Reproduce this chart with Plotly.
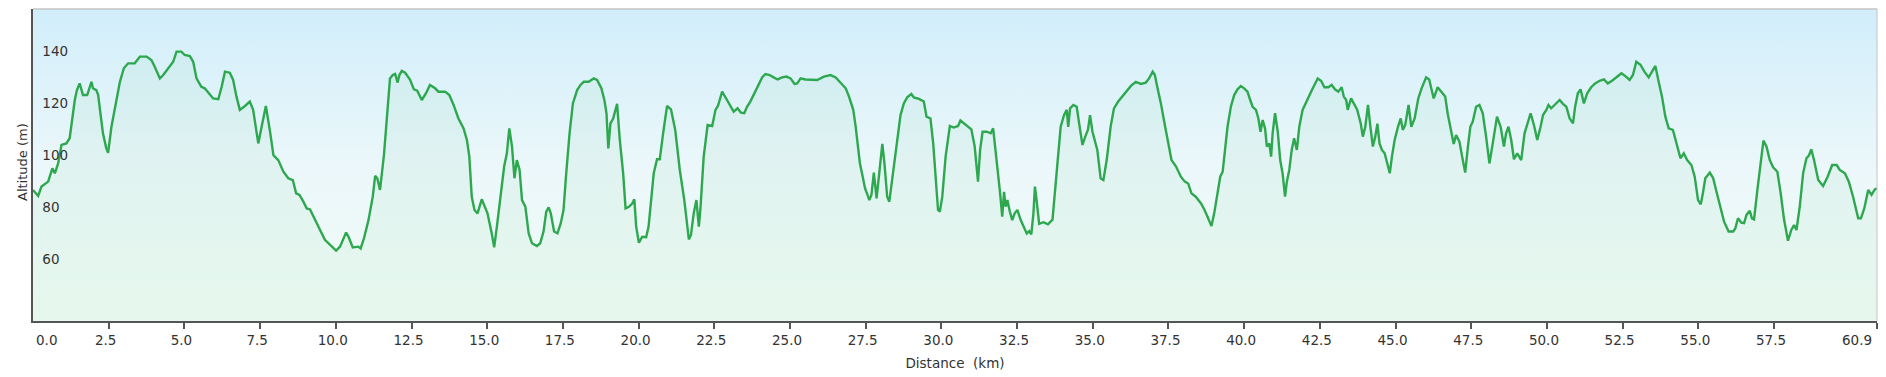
import plotly.graph_objects as go

distance_km = [
    0.0, 0.17, 0.28, 0.5, 0.64, 0.72, 0.83, 0.94, 1.10, 1.21, 1.38, 1.45, 1.54, 1.65, 1.79, 1.93, 1.98, 2.09, 2.15, 2.31,
    2.42, 2.48, 2.59, 2.73, 2.87, 3.0, 3.14, 3.36, 3.53, 3.75, 3.91, 4.02, 4.19, 4.30, 4.46, 4.63, 4.74, 4.90, 5.01, 5.18,
    5.29, 5.40, 5.56, 5.67, 5.95, 6.12, 6.23, 6.34, 6.50, 6.61, 6.72,
    6.83, 7.0, 7.16, 7.27, 7.44, 7.55, 7.69, 7.82, 7.94, 8.10, 8.27, 8.43, 8.58, 8.69, 8.80, 8.93, 9.04, 9.15, 9.31, 9.48,
    9.64, 9.81, 10.01, 10.14, 10.34, 10.42, 10.56, 10.74, 10.82, 10.93, 11.08, 11.22, 11.30, 11.37, 11.46, 11.59, 11.68,
    11.79, 11.88, 11.96, 12.04, 12.10, 12.18, 12.29, 12.45, 12.58, 12.69, 12.84, 12.98, 13.11, 13.28, 13.39, 13.61, 13.75,
    13.89, 14.05, 14.22, 14.33, 14.41, 14.49, 14.58, 14.68, 14.82,
    15.01, 15.15, 15.23, 15.32, 15.43, 15.56, 15.65, 15.73, 15.82, 15.90, 15.98, 16.07, 16.15, 16.26, 16.37, 16.48, 16.64,
    16.75, 16.86, 16.95, 17.03, 17.10, 17.21, 17.32, 17.43, 17.52, 17.61, 17.72, 17.83, 17.97, 18.08, 18.19, 18.35, 18.52,
    18.63, 18.77, 18.87, 18.94, 19.0, 19.07, 19.16, 19.29, 19.38, 19.49, 19.57, 19.68, 19.79, 19.86, 19.92, 20.01, 20.12,
    20.25, 20.33, 20.44, 20.50, 20.61, 20.70, 20.81, 20.94, 21.07, 21.21, 21.36, 21.51, 21.66, 21.73, 21.82, 21.91, 21.99,
    22.04, 22.15, 22.28, 22.43, 22.54, 22.62, 22.76,
    22.92, 23.05, 23.14, 23.27, 23.38, 23.49, 23.58, 23.69, 23.86, 23.97, 24.08, 24.19, 24.33, 24.46, 24.59, 24.74, 24.88,
    25.02, 25.15, 25.24, 25.35, 25.51, 25.68, 25.90, 26.12, 26.34, 26.51, 26.67, 26.84, 26.95, 27.09, 27.17, 27.25, 27.31,
    27.39, 27.48, 27.56, 27.62, 27.69, 27.77, 27.86, 27.94, 28.05, 28.12, 28.21, 28.28, 28.35, 28.43, 28.54, 28.65, 28.76,
    28.87, 29.01, 29.09, 29.26, 29.42, 29.51, 29.64, 29.73, 29.81, 29.89, 29.95, 30.03, 30.14, 30.28, 30.41, 30.55,
    30.63, 30.80, 30.99, 31.10, 31.21, 31.28, 31.36, 31.50, 31.63, 31.71, 31.83, 31.94, 32.01, 32.07, 32.12, 32.18, 32.26,
    32.34, 32.42, 32.51, 32.62, 32.73, 32.82, 32.90, 32.97, 33.04, 33.09, 33.15, 33.23, 33.37, 33.52, 33.67, 33.74, 33.83,
    33.94, 34.05, 34.14, 34.19, 34.25, 34.36, 34.47, 34.55, 34.66, 34.77, 34.84, 34.91, 34.99, 35.15, 35.26, 35.35, 35.46,
    35.59, 35.70, 35.84, 35.98, 36.09, 36.26, 36.42, 36.59, 36.75, 36.86, 36.98, 37.05, 37.14, 37.25, 37.38, 37.49, 37.60,
    37.75, 37.91, 38.04, 38.15, 38.26, 38.40,
    38.57, 38.68, 38.79, 38.92, 39.01, 39.12, 39.21, 39.29, 39.36, 39.45, 39.56, 39.67, 39.78, 39.89, 40.0, 40.11, 40.20,
    40.28, 40.39, 40.47, 40.54, 40.61, 40.69, 40.75, 40.83, 40.89, 40.94, 41.02, 41.11, 41.19, 41.27, 41.35, 41.41, 41.49,
    41.57, 41.65, 41.74, 41.82, 41.93, 42.07, 42.21, 42.32, 42.43, 42.54, 42.65, 42.78, 42.89, 43.0, 43.11, 43.22, 43.29,
    43.37, 43.42, 43.53, 43.62, 43.73, 43.85, 43.92, 44.0, 44.09, 44.17, 44.25, 44.33, 44.40, 44.47, 44.55, 44.64, 44.73,
    44.81, 44.88, 44.97, 45.08, 45.17, 45.24, 45.32, 45.43, 45.52, 45.63, 45.75, 45.86, 46.01, 46.11, 46.26, 46.39,
    46.50, 46.64, 46.72, 46.81, 46.92, 47.0, 47.11, 47.19, 47.30, 47.39, 47.47, 47.55, 47.66, 47.77, 47.88, 47.99, 48.10,
    48.21, 48.35, 48.47, 48.58, 48.65, 48.73, 48.82, 48.91, 49.02, 49.15, 49.26, 49.35, 49.46, 49.57, 49.68, 49.79, 49.87,
    49.98, 50.05, 50.14, 50.25, 50.42, 50.53, 50.64, 50.75, 50.86, 50.93, 51.02, 51.11, 51.22, 51.33, 51.46, 51.59, 51.74,
    51.88, 52.01, 52.15, 52.29, 52.46, 52.59, 52.73, 52.84, 52.95, 53.09, 53.22, 53.36, 53.47, 53.58, 53.69, 53.80,
    53.91, 54.02, 54.16, 54.27, 54.41, 54.52, 54.63, 54.77, 54.88, 54.99, 55.08, 55.15, 55.23, 55.38, 55.49, 55.60, 55.74,
    55.85, 56.0, 56.15, 56.22, 56.31, 56.42, 56.51, 56.59, 56.70, 56.77, 56.84, 56.95, 57.05, 57.15, 57.25, 57.36, 57.47,
    57.61, 57.72, 57.83, 57.96, 58.07, 58.16, 58.24, 58.35, 58.46, 58.57, 58.65, 58.73, 58.82, 58.96, 59.12, 59.27, 59.42,
    59.57, 59.67, 59.84, 59.97, 60.11, 60.28, 60.37, 60.48, 60.61, 60.72, 60.83, 60.9,
]

altitude_m = [
    90.4, 88.1, 91.7, 93.6, 98.7, 96.8, 100.6, 107.7, 108.3, 110.3, 125, 128.8, 131.4, 126.9, 126.9, 132, 129.5, 128.8, 127, 112.2,
    106.4, 104.7, 114.7, 123.7, 132, 137.2, 139.1, 139.1, 141.7, 141.7, 140.4, 137.8, 133.3, 134.6, 137.2, 139.7, 143.6, 143.6, 142.3, 141.9,
    139.7, 133.3, 130.1, 129.5, 125.6, 125.3, 130.1, 135.9, 135.5, 132.7, 126.3,
    121.2, 122.7, 124.4, 121.2, 108.3, 114.7, 122.7, 113.5, 103.8, 101.9, 97.4, 94.9, 94.2, 89.1, 88.5, 85.9, 83.3, 82.9, 78.8, 75.0,
    71.2, 69.2, 67.1, 68.6, 74.0, 72.4, 68.3, 68.6, 67.9, 71.8, 78.8, 87.8, 95.8, 94.9, 90.4, 103.8, 118.6,
    133.3, 134.6, 135, 131.7, 134.6, 136.2, 135.5, 132.9, 129.1, 128.6, 125, 127.6, 130.8, 129.5, 128.2, 128.2, 126.9,
    123.1, 117.9, 114.1, 109.6, 103.2, 87.8, 82.7, 81.4, 86.8,
    81.4, 73.7, 68.3, 76.3, 87.8, 99.4, 104.5, 114.1, 107.1, 94.9, 101.9, 98.1, 86.5, 84, 73.7, 69.9, 68.8,
    69.9, 74.4, 82.1, 83.7, 81.4, 74.4, 73.7, 77.6, 82.7, 96.8, 112.2, 123.7, 128.8, 130.8, 132, 132, 133.3,
    132.7, 129.5, 125, 119.9, 106.4, 116, 117.9, 123.5, 109.6, 96.8, 83.3, 83.9, 85.2, 86.8, 76.3, 70.1, 72.4,
    72.2, 76.3, 89.1, 96.8, 102.2, 102.2, 112.2, 122.7, 121.4, 113.5, 98.1, 86.5, 71.4, 73.1, 81.4, 86.5, 76.3,
    82.7, 103.2, 115.4, 115, 121.2, 122.7, 128.2,
    125, 122.4, 120.5, 121.8, 120.1, 119.9, 122.4, 124.4, 128.2, 130.8, 133.7, 135, 134.6, 133.7, 132.9, 133.7, 134,
    133.3, 131.2, 131.4, 133.3, 132.9, 132.9, 132.7, 134, 134.6, 133.7, 131.7, 129.5, 126.3, 121.2, 114.7, 105.8, 100.6,
    96.2, 91, 88.5, 86.5, 88.5, 97.1, 87.2, 96.8, 108.1, 100.6, 87.8, 85.9, 92.3, 97.4, 108.3, 119.2, 123.7,
    126, 127.3, 126, 125.4, 124.4, 118.6, 117.9, 108.3, 93.6, 82.7, 82.1, 87.8, 103.2, 115, 114.4, 115,
    117.1, 115.4, 113.7, 107.1, 93.6, 105.8, 112.8, 112.8, 112.2, 114.1, 101.9, 89.1, 80.1, 89.7, 84, 86.5, 82.1,
    78.8, 81.4, 82.7, 78.8, 76.3, 73.7, 74.6, 73.3, 81.4, 91.7, 85.9, 77.4, 78, 77.2, 79, 89.1, 101.9,
    114.7, 119.2, 121.2, 114.7, 121.8, 123.1, 122.4, 116, 107.7, 111.5, 113.5, 119.2, 112.8, 105.8, 94.9, 94.2, 101.9,
    114.7, 121.8, 124.4, 126.3, 127.8, 130.4, 132, 131.2, 131.7, 133.3, 135.9, 134.6, 129.5, 123.7, 115.4, 108.3, 101.9,
    99.4, 95.5, 93.6, 92.9, 89.1, 87.8,
    85.3, 83, 80.1, 76.5, 81.4, 89.1, 95.5, 97.4, 105.8, 114.7, 122.4, 126.9, 129.1, 130.4, 129.5, 128.2, 125,
    122.4, 121.2, 117.9, 112.8, 117.3, 114.1, 107.1, 108.3, 103.2, 112.2, 119.9, 112.8, 101.9, 96.8, 87.8, 93.6, 98.1,
    105.8, 110.3, 105.8, 114.7, 121.2, 125, 128.2, 130.8, 133.3, 132.4, 129.9, 129.9, 130.8, 129.1, 128.2, 129.9, 126.3,
    125, 121.2, 125.6, 123.5, 121.4, 116, 110.9, 114.7, 123.1, 114.7, 107.1, 110.9, 115.9, 108.3, 105.8, 104.5, 100.6,
    96.8, 103.2, 109.6, 114.7, 117.9, 113.5, 115.4, 123.1, 114.7, 117.9, 125.6, 129.5, 133.7, 132.9, 125.6, 129.9,
    128.2, 126.3, 119.9, 114.1, 108.1, 111.5, 109, 103.8, 97.1, 107.1, 114.7, 116.7, 122.4, 123.1, 119.9, 110.9, 100.6,
    108.3, 118.6, 114.7, 107.1, 112.2, 114.7, 109.6, 102.2, 104.5, 101.9, 112.2, 116, 119.9, 115.4, 109.6, 114.7, 119.2,
    121.2, 123.1, 121.8, 123.1, 125, 123.5, 122.4, 117.9, 116, 122.4, 127.6, 129.1, 123.7, 127.6, 129.9, 131.4, 132.4,
    132.9, 131.4, 132.4, 133.7, 135.3, 134.2, 132.7, 134.6, 139.7, 138.5, 135.9, 133.7, 135.9, 138.1, 132, 126.3,
    118.6, 114.1, 113.5, 108.3, 102.6, 104.5, 101.9, 100, 95.5, 86.5, 84.9, 89.1, 94.9, 97.1, 94.9, 89.7, 83.3,
    78.2, 74.4, 74.4, 75.6, 79.5, 77.8, 77.6, 80.8, 82.4, 79.5, 79.1, 90.4, 100.6, 109.4, 107.1, 101.9, 99.1,
    97.4, 89.1, 79.1, 70.9, 75, 76.9, 75, 84, 96.8, 102.6, 103.6, 106, 101.9, 94.2, 91.9, 95.5, 100,
    100, 98.1, 96.8, 93.6, 87.8, 79.5, 79.5, 83.3, 90.4, 88.5, 90.6, 91,
]

x_tick_values = [0, 2.5, 5, 7.5, 10, 12.5, 15, 17.5, 20, 22.5, 25, 27.5, 30, 32.5, 35, 37.5, 40, 42.5, 45, 47.5,
                 50, 52.5, 55, 57.5, 60.9]
x_tick_labels = ["0.0", "2.5", "5.0", "7.5", "10.0", "12.5", "15.0", "17.5", "20.0", "22.5", "25.0", "27.5",
                 "30.0", "32.5", "35.0", "37.5", "40.0", "42.5", "45.0", "47.5", "50.0", "52.5", "55.0", "57.5",
                 "60.9"]
y_tick_values = [60, 80, 100, 120, 140]
x_range = [-0.0005, 60.9005]
y_range = [40, 160]

FONT = "DejaVu Sans, Verdana, sans-serif"
TEXT = "#333333"
TICK_FONT = dict(family=FONT, size=13.5, color=TEXT)

# the two end labels are pulled inward (as in the reference) and drawn as annotations
axis_ticktext = [""] + x_tick_labels[1:-1] + [""]

fig = go.Figure()

# background gradient panel
fig.add_trace(go.Scatter(
    x=[x_range[0], x_range[1], x_range[1], x_range[0], x_range[0]],
    y=[y_range[0], y_range[0], y_range[1], y_range[1], y_range[0]],
    mode="lines", line=dict(width=0), fill="toself",
    fillgradient=dict(type="vertical", start=y_range[0], stop=y_range[1],
                      colorscale=[[0, "#f1fcf6"], [0.5, "#ebf7fa"], [1, "#d1eefa"]]),
    hoverinfo="skip", showlegend=False,
))

# altitude profile
fig.add_trace(go.Scatter(
    x=distance_km, y=altitude_m, mode="lines",
    line=dict(color="#2da84f", width=2.4),
    fill="tozeroy", fillcolor="rgba(70,190,110,0.06)",
    showlegend=False, hoverinfo="skip",
))

# the page body adds an 8 px offset, so margins are shifted accordingly
fig.update_layout(
    width=1886, height=377,
    margin=dict(l=25, r=17, t=1, b=64),
    paper_bgcolor="white", plot_bgcolor="white",
    font=dict(family=FONT, size=13, color=TEXT),
    showlegend=False,
    xaxis=dict(
        range=x_range, tickvals=x_tick_values, ticktext=axis_ticktext,
        automargin=False, showgrid=False, zeroline=False,
        showline=True, linecolor="#555555", linewidth=2,
        ticks="outside", ticklen=6, tickwidth=1.5, tickcolor="#555555",
        ticklabelshift=-3,
        tickfont=TICK_FONT,
        title=dict(text="Distance\u00a0 (km)", font=dict(family=FONT, size=13.5, color=TEXT), standoff=11),
    ),
    yaxis=dict(
        range=y_range, tickvals=y_tick_values,
        automargin=False,
        showgrid=True, gridcolor="rgba(110,120,125,0.45)", gridwidth=1,
        zeroline=False, showline=True, linecolor="#555555", linewidth=2,
        ticks="", ticklabelposition="inside top", ticklabelstandoff=8,
        tickfont=TICK_FONT,
    ),
    annotations=[
        dict(text="Altitude (m)", textangle=-90, xref="paper", yref="paper", x=0, y=0.5,
             xanchor="center", yanchor="middle", xshift=-10.5, yshift=2.5, showarrow=False,
             font=dict(family=FONT, size=13, color=TEXT)),
        dict(text=x_tick_labels[0], xref="x", yref="paper", x=x_tick_values[0], y=0,
             xanchor="left", yanchor="middle", xshift=1, yshift=-18.6, showarrow=False, font=TICK_FONT),
        dict(text=x_tick_labels[-1], xref="x", yref="paper", x=x_tick_values[-1], y=0,
             xanchor="right", yanchor="middle", xshift=-3, yshift=-18.6, showarrow=False, font=TICK_FONT),
    ],
    shapes=[
        dict(type="line", xref="paper", yref="paper", x0=0, x1=1, y0=1, y1=1,
             line=dict(color="#c4c4c4", width=1.5), layer="above"),
        dict(type="line", xref="paper", yref="paper", x0=1, x1=1, y0=0, y1=1,
             line=dict(color="#c4c4c4", width=1), layer="above"),
        dict(type="rect", xref="paper", yref="paper", x0=1.0017, x1=1.006, y0=-0.2, y1=1.05,
             fillcolor="#ececec", line=dict(color="#cfcfcf", width=1), layer="above"),
    ],
)

fig.write_html("out.html")
